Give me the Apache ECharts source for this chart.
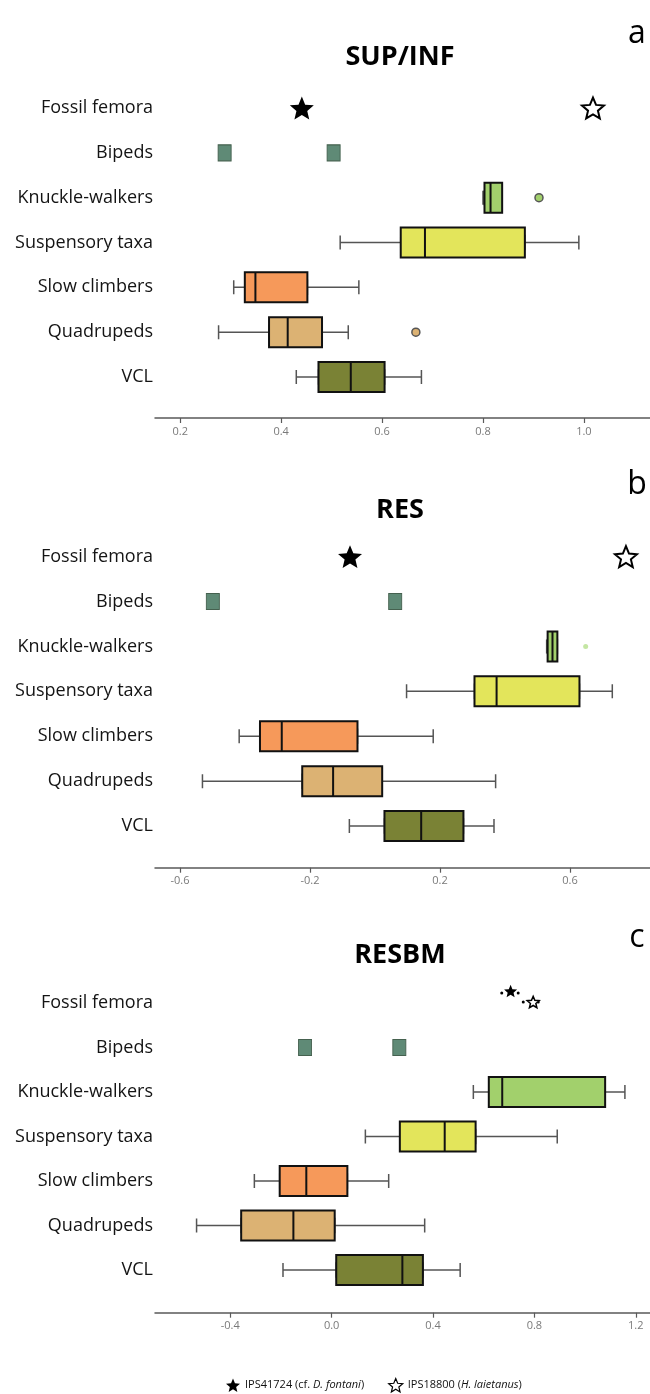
<!DOCTYPE html>
<html>
<head>
<meta charset="utf-8">
<script src="https://cdn.jsdelivr.net/npm/echarts@6/dist/echarts.min.js"></script>
<style>
  html, body { margin: 0; padding: 0; background: #fff; }
  #chart { width: 650px; height: 1394px; }
</style>
</head>
<body>
<div id="chart"></div>
<script>
// ---------- data ----------
const categories = ['Fossil femora', 'Bipeds', 'Knuckle-walkers', 'Suspensory taxa', 'Slow climbers', 'Quadrupeds', 'VCL'];
const groupColors = ['#000000', '#5f8a76', '#a2d06c', '#e3e55b', '#f6995a', '#dcb273', '#7a8235'];
const panelTitles = ['SUP/INF', 'RES', 'RESBM'];
const panelLetters = ['a', 'b', 'c'];
const fossilNames = ['IPS41724', 'IPS18800'];

// [min, Q1, median, Q3, max] aligned with categories (null = no box)
const supinfBox = [null, null,
  [0.800, 0.803, 0.815, 0.838, 0.838],
  [0.517, 0.637, 0.685, 0.883, 0.990],
  [0.306, 0.328, 0.349, 0.452, 0.554],
  [0.276, 0.376, 0.413, 0.481, 0.533],
  [0.430, 0.474, 0.538, 0.605, 0.678]];
const supinfOutliers = [['Knuckle-walkers', 0.911], ['Quadrupeds', 0.667]];
const supinfBipeds = [0.288, 0.504];
const supinfFossil = [0.441, 1.018];
const supinfTicks = [0.2, 0.4, 0.6, 0.8, 1.0];

const resBox = [null, null,
  [0.528, 0.531, 0.546, 0.561, 0.561],
  [0.097, 0.306, 0.374, 0.629, 0.730],
  [-0.418, -0.354, -0.287, -0.054, 0.179],
  [-0.531, -0.224, -0.129, 0.022, 0.371],
  [-0.079, 0.029, 0.142, 0.272, 0.366]];
const resOutliers = [['Knuckle-walkers', 0.648]];
const resBipeds = [-0.499, 0.062];
const resFossil = [-0.077, 0.772];
const resTicks = [-0.6, -0.2, 0.2, 0.6];

const resbmBox = [null, null,
  [0.559, 0.620, 0.673, 1.079, 1.157],
  [0.133, 0.269, 0.446, 0.568, 0.890],
  [-0.305, -0.205, -0.100, 0.062, 0.225],
  [-0.533, -0.357, -0.151, 0.012, 0.367],
  [-0.192, 0.018, 0.279, 0.360, 0.507]];
const resbmOutliers = [];
const resbmBipeds = [-0.105, 0.267];
const resbmFossil = [0.706, 0.795];
const resbmFossilDots1 = [0.671, 0.736];
const resbmFossilDots2 = [0.756, 0.815];
const resbmTicks = [-0.4, 0.0, 0.4, 0.8, 1.2];

// ---------- layout / style ----------
const FONT = 'Open Sans';
const STAR = 'path://M0,-10 L2.645,-3.64 L9.51,-3.09 L4.28,1.39 L5.88,8.09 L0,4.5 L-5.88,8.09 L-4.28,1.39 L-9.51,-3.09 L-2.645,-3.64 Z';
const panels = [
  { box: supinfBox, out: supinfOutliers, bip: supinfBipeds, fos: supinfFossil, ticks: supinfTicks,
    min: 0.150, max: 1.131, top: 85.6, height: 313.8, offset: 18.6, starSize: [24, 22], starOff: [[0, 0], [0, 0]], outStyle: 'ring' },
  { box: resBox, out: resOutliers, bip: resBipeds, fos: resFossil, ticks: resTicks,
    min: -0.677, max: 0.846, top: 534.2, height: 314.3, offset: 19.2, starSize: [24, 22], starOff: [[0, 0], [0, 0]], outStyle: 'faint' },
  { box: resbmBox, out: resbmOutliers, bip: resbmBipeds, fos: resbmFossil, ticks: resbmTicks,
    min: -0.697, max: 1.256, top: 980.8, height: 311.5, offset: 20.4, starSize: [13, 12], starOff: [[0, -12], [0, -1]], outStyle: 'ring',
    dots: [resbmFossilDots1, resbmFossilDots2], dotOff: [[0, -10], [0, -1]] }
];

const grid = [], xAxis = [], yAxis = [], series = [];
panels.forEach((p, i) => {
  grid.push({ left: 155, right: 0, top: p.top, height: p.height });
  xAxis.push({
    gridIndex: i, type: 'value', min: p.min, max: p.max, offset: p.offset,
    splitLine: { show: false },
    axisLine: { show: true, lineStyle: { color: '#5a5a5a', width: 1.5 } },
    axisTick: { show: true, length: 5, customValues: p.ticks, lineStyle: { color: '#5a5a5a', width: 1.2 } },
    axisLabel: { customValues: p.ticks, formatter: v => Number(v).toFixed(1), fontSize: 11, color: '#7a7a7a', margin: 8, fontFamily: FONT }
  });
  yAxis.push({
    gridIndex: i, type: 'category', data: categories, inverse: true,
    axisLine: { show: false }, axisTick: { show: false }, splitLine: { show: false },
    axisLabel: { fontSize: 18, color: '#141414', fontFamily: FONT, margin: 2 }
  });
});
panels.forEach((p, i) => {
  yAxis.push({ gridIndex: i, type: 'category', data: categories, inverse: true, show: false });
});

panels.forEach((p, i) => {
  const whiskerData = [], boxData = [];
  p.box.forEach((b, ci) => {
    if (!b) return;
    whiskerData.push({ value: [ci, b[0], b[1], b[2], b[3], b[4]] });
    boxData.push({ value: [ci, b[1], b[1], b[2], b[3], b[3]], itemStyle: { color: groupColors[ci] } });
  });
  // whiskers (thin grey, short caps)
  series.push({
    type: 'boxplot', xAxisIndex: i, yAxisIndex: i + 3, encode: { y: 0, x: [1, 2, 3, 4, 5] },
    boxWidth: [14, 14], data: whiskerData, silent: true, z: 2,
    itemStyle: { color: 'rgba(0,0,0,0)', borderColor: '#555', borderWidth: 1.5 },
    emphasis: { disabled: true }
  });
  // boxes
  series.push({
    type: 'boxplot', xAxisIndex: i, yAxisIndex: i, encode: { y: 0, x: [1, 2, 3, 4, 5] },
    boxWidth: [30, 30], data: boxData, silent: true, z: 3,
    itemStyle: { borderColor: '#111', borderWidth: 2 },
    emphasis: { disabled: true }
  });
  // outliers
  series.push({
    type: 'scatter', xAxisIndex: i, yAxisIndex: i, z: 4, silent: true,
    symbol: 'circle', symbolSize: p.outStyle === 'faint' ? 5 : 8,
    data: p.out.map(o => {
      const ci = categories.indexOf(o[0]);
      return {
        value: [o[1], o[0]],
        itemStyle: p.outStyle === 'faint'
          ? { color: '#b5e08c', opacity: 0.8 }
          : { color: groupColors[ci], borderColor: '#555', borderWidth: 1.5, opacity: 1 }
      };
    })
  });
  // bipeds
  series.push({
    type: 'scatter', xAxisIndex: i, yAxisIndex: i, z: 4, silent: true,
    symbol: 'rect', symbolSize: [13, 16],
    itemStyle: { color: groupColors[1], borderColor: '#45614f', borderWidth: 1, opacity: 1 },
    data: p.bip.map(v => [v, 'Bipeds'])
  });
  // fossil dots (panel c)
  if (p.dots) {
    p.dots.forEach((d, k) => {
      series.push({
        type: 'scatter', xAxisIndex: i, yAxisIndex: i, z: 4, silent: true,
        symbol: 'circle', symbolSize: 3, symbolOffset: p.dotOff[k],
        itemStyle: { color: '#000', opacity: 1 },
        data: d.map(v => [v, 'Fossil femora'])
      });
    });
  }
  // fossil stars
  series.push({
    name: fossilNames[0], type: 'scatter', xAxisIndex: i, yAxisIndex: i, z: 5, silent: true,
    symbol: STAR, symbolSize: p.starSize[0], symbolKeepAspect: true, symbolOffset: p.starOff[0],
    itemStyle: { color: '#000', opacity: 1 },
    data: [[p.fos[0], 'Fossil femora']]
  });
  series.push({
    name: fossilNames[1], type: 'scatter', xAxisIndex: i, yAxisIndex: i, z: 5, silent: true,
    symbol: STAR, symbolSize: p.starSize[1], symbolKeepAspect: true, symbolOffset: p.starOff[1],
    itemStyle: { color: '#fff', borderColor: '#000', borderWidth: i === 2 ? 1.5 : 2, opacity: 1 },
    data: [[p.fos[1], 'Fossil femora']]
  });
});

const titleTexts = [];
const titleY = [57, 510, 955];
const letterY = [34, 485, 938];
panelTitles.forEach((t, i) => {
  titleTexts.push({
    type: 'text', x: 400, y: titleY[i],
    style: { text: t, fill: '#000', font: 'bold 27px "Open Sans"', align: 'center', verticalAlign: 'middle' }
  });
  titleTexts.push({
    type: 'text', x: 637, y: letterY[i],
    style: { text: panelLetters[i], fill: '#000', font: '32px "Open Sans"', align: 'center', verticalAlign: 'middle' }
  });
});

const chart = echarts.init(document.getElementById('chart'), null, { renderer: 'canvas' });
chart.setOption({
  backgroundColor: '#fff',
  animation: false,
  grid, xAxis, yAxis, series,
  graphic: titleTexts,
  legend: {
    data: [
      { name: fossilNames[0], icon: STAR, itemStyle: { color: '#000', opacity: 1 } },
      { name: fossilNames[1], icon: STAR, itemStyle: { color: '#fff', borderColor: '#000', borderWidth: 1.2, opacity: 1 } }
    ],
    left: 221, top: 1373, itemWidth: 14, itemHeight: 14, itemGap: 24,
    selectedMode: false,
    formatter: name => name === fossilNames[0] ? 'IPS41724 (cf. {i|D. fontani})' : 'IPS18800 ({i|H. laietanus})',
    textStyle: {
      fontSize: 11, fontFamily: FONT, color: '#111',
      rich: { i: { fontSize: 11, fontFamily: FONT, color: '#111', fontStyle: 'italic' } }
    }
  }
});
</script>
</body>
</html>
